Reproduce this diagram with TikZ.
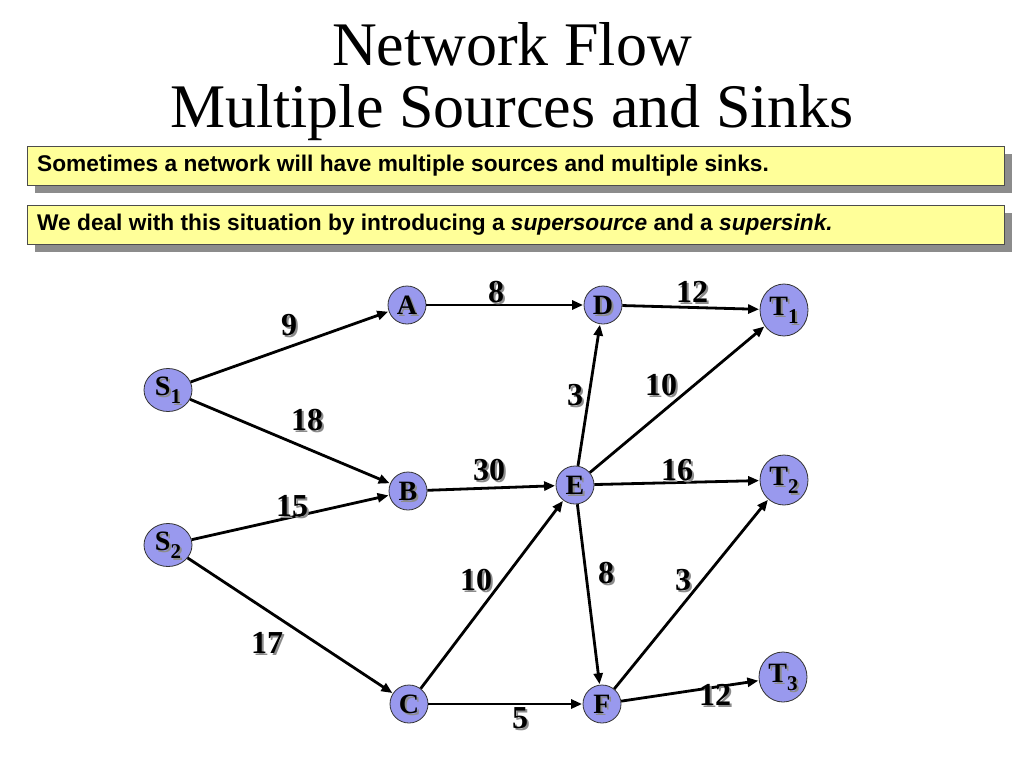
\documentclass[tikz,border=0pt]{standalone}
\usepackage{fontspec}
\setmainfont{Liberation Serif}
\setsansfont{Liberation Sans}
\usetikzlibrary{arrows.meta,shapes.geometric}
\definecolor{nodefill}{HTML}{9999EE}
\definecolor{boxfill}{HTML}{FFFF99}
\definecolor{shadowgray}{HTML}{8C8C8C}
\tikzset{
  vert/.style={ellipse,draw=black!80,line width=0.8pt,fill=nodefill,inner sep=0pt,minimum width=38pt,minimum height=38pt},
  bigvert/.style={vert,minimum width=48pt,minimum height=46pt},
  vtext/.style={font=\fontsize{28}{28}\selectfont\bfseries,inner sep=0pt},
  etext/.style={font=\fontsize{32}{32}\selectfont\bfseries,inner sep=0pt},
  edge/.style={line width=2.8pt,-{Triangle[length=11pt,width=9pt]},shorten >=0.5pt},
  infobox/.style={draw=black!70,line width=0.8pt,fill=boxfill},
  boxshadow/.style={fill=shadowgray,draw=none},
  boxtext/.style={anchor=west,inner sep=0pt,font=\sffamily\bfseries\fontsize{22.7}{23}\selectfont},
  titletext/.style={font=\fontsize{62}{62}\selectfont},
}
\newcommand{\vlab}[3]{%
  \node[vtext,text=shadowgray] at ([xshift=2pt,yshift=-2pt]#1) {#3};
  \node[vtext] (#2) at (#1) {#3};}
\newcommand{\elab}[3]{%
  \node[etext,text=shadowgray] at ([xshift=2pt,yshift=-2pt]#1) {#3};
  \node[etext] (#2) at (#1) {#3};}
\newcommand{\subn}[1]{\fontsize{21}{21}\selectfont\raisebox{-8pt}{#1}}
\begin{document}
\begin{tikzpicture}[x=1pt,y=-1pt]
\useasboundingbox (0,0) rectangle (1024,768);
\fill[white] (0,0) rectangle (1024,768);
% title
\node[titletext] (t1) at (512,44) {Network Flow};
\node[titletext] (t2) at (512,113) {Multiple Sources and Sinks};
% boxes
\fill[boxshadow] (35,154) rectangle (1012,193);
\draw[infobox] (27,146) rectangle (1004,185);
\node[boxtext] (b1) at (37,165.5) {Sometimes a network will have multiple sources and multiple sinks.};
\fill[boxshadow] (35,213) rectangle (1012,252);
\draw[infobox] (27,205) rectangle (1004,244);
\node[boxtext] (b2) at (37,224.5) {We deal with this situation by introducing a \textit{supersource} and a \textit{supersink.}};
% vertices
\node[vert] (A) at (407,305) {};
\node[vert] (D) at (603,305) {};
\node[bigvert,minimum height=52pt] (T1) at (784,310) {};
\node[bigvert,minimum height=43pt] (S1) at (168,390) {};
\node[vert] (B) at (408,491) {};
\node[vert] (E) at (575,485) {};
\node[bigvert,minimum height=50pt] (T2) at (784,480) {};
\node[bigvert,minimum height=43pt] (S2) at (168,545) {};
\node[vert] (C) at (409,704) {};
\node[vert] (F) at (602,704) {};
\node[bigvert,minimum height=50pt] (T3) at (783,677) {};
% vertex labels
\vlab{A}{lA}{A}
\vlab{D}{lD}{D}
\vlab{T1}{lT1}{T\subn{1}}
\vlab{S1}{lS1}{S\subn{1}}
\vlab{B}{lB}{B}
\vlab{E}{lE}{E}
\vlab{T2}{lT2}{T\subn{2}}
\vlab{S2}{lS2}{S\subn{2}}
\vlab{C}{lC}{C}
\vlab{F}{lF}{F}
\vlab{T3}{lT3}{T\subn{3}}
% edges
\draw[edge] (S1) -- (A);
\draw[edge] (S1) -- (B);
\draw[edge] (S2) -- (B);
\draw[edge] (S2) -- (C);
\draw[edge] (A) -- (D);
\draw[edge] (D) -- (T1);
\draw[edge] (B) -- (E);
\draw[edge] (E) -- (D);
\draw[edge] (E) -- (T1);
\draw[edge] (E) -- (T2);
\draw[edge] (E) -- (F);
\draw[edge] (C) -- (E);
\draw[edge] (C) -- (F);
\draw[edge] (F) -- (T2);
\draw[edge] (F) -- (T3);
% edge labels
\elab{289,325}{w1}{9}
\elab{496,292}{w2}{8}
\elab{692,292}{w3}{12}
\elab{307,420}{w4}{18}
\elab{575,395}{w5}{3}
\elab{661,385}{w6}{10}
\elab{489,470}{w7}{30}
\elab{677,470}{w8}{16}
\elab{292,506}{w9}{15}
\elab{476,580}{w10}{10}
\elab{606,573}{w11}{8}
\elab{683,580}{w12}{3}
\elab{267,643}{w13}{17}
\elab{715,695}{w14}{12}
\elab{520,718}{w15}{5}
\end{tikzpicture}
\end{document}
